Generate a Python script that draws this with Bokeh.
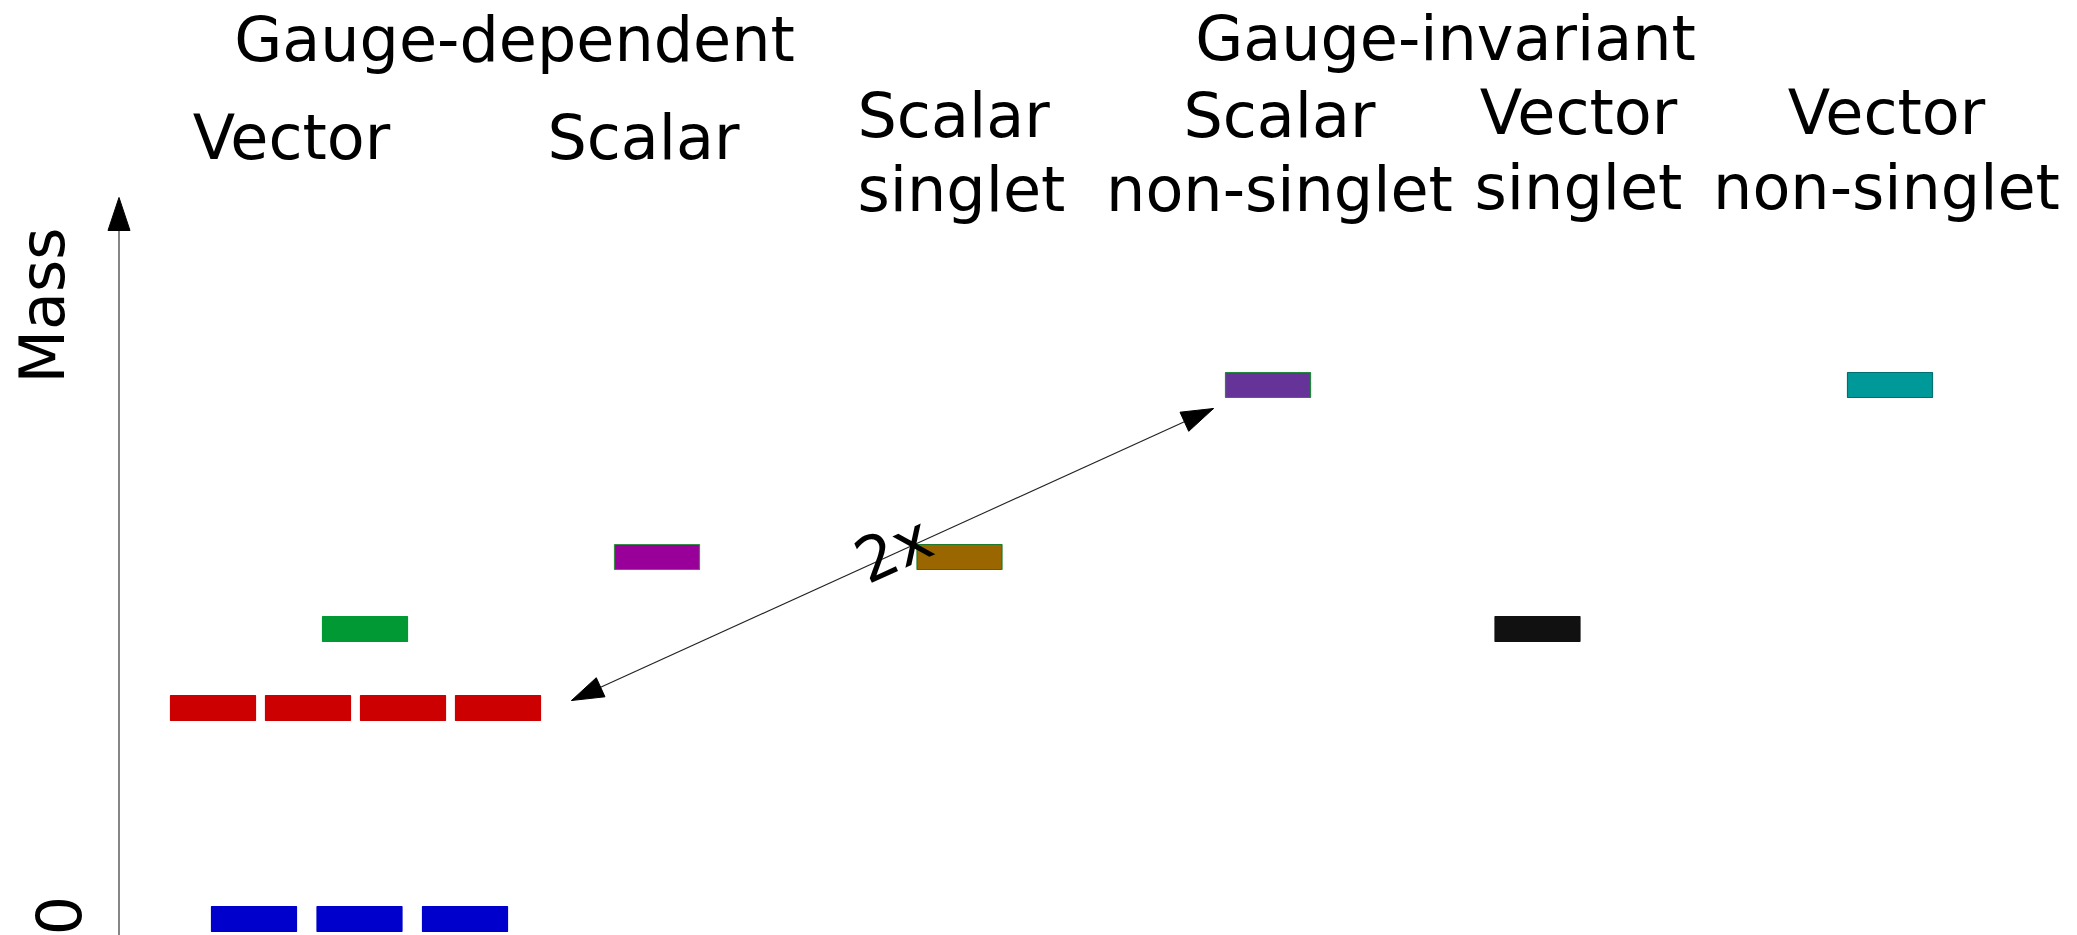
import math
from bokeh.plotting import figure
from bokeh.models import Range1d
from bokeh.core.properties import value
from bokeh.embed import file_html
from bokeh.resources import INLINE

# ---------------- data ----------------
group_names = ["Gauge-dependent", "Gauge-invariant"]
column_titles = [
    ["Vector"],
    ["Scalar"],
    ["Scalar", "singlet"],
    ["Scalar", "non-singlet"],
    ["Vector", "singlet"],
    ["Vector", "non-singlet"],
]
# mass levels (arbitrary units, 0 = massless)
level_column = [0, 0, 0, 1, 2, 3, 4, 5]
level_mass = [0.0, 2.11, 2.90, 3.62, 3.62, 5.34, 2.90, 5.34]
level_multiplicity = [3, 4, 1, 1, 1, 1, 1, 1]
ratio_text = "2x"
axis_text = "Mass"
zero_text = "0"

# ---------------- styles / layout ----------------
level_fill = ["#0000cc", "#cc0000", "#009933", "#990099", "#996600", "#663399", "#111111", "#009999"]
level_line = ["#0000cc", "#cc0000", "#009933", "#3a8a4a", "#1f7a2a", "#1f8a3a", "#111111", "#006f6f"]
level_center_x = [359.0, 355.0, 364.5, 656.5, 959.0, 1267.5, 1537.0, 1889.5]
level_spacing = [105.5, 95.0, 0, 0, 0, 0, 0, 0]
BAR_W = 85.0
BAR_H_PX = 25.0

W, H = 2077, 935
MASS0_REF = 918.5     # pixel row of mass 0
PX_PER_UNIT = 100.0
TOP_REF = 0.0
BASE_SHIFT = 23.0     # renderer places alphabetic baseline this much lower


def Y(ref_y):
    return (MASS0_REF - ref_y) / PX_PER_UNIT


def head(tip, tail, length, width):
    """triangle (in pixels) for an arrow head pointing at tip"""
    dx, dy = tip[0] - tail[0], tip[1] - tail[1]
    n = math.hypot(dx, dy)
    ux, uy = dx / n, dy / n
    bx, by = tip[0] - ux * length, tip[1] - uy * length
    px, py = -uy, ux
    pts = [tip, (bx + px * width / 2, by + py * width / 2), (bx - px * width / 2, by - py * width / 2)]
    return [p[0] for p in pts], [Y(p[1]) for p in pts]


p = figure(width=W, height=H, x_range=Range1d(0, W),
           y_range=Range1d(Y(TOP_REF + H), Y(TOP_REF)),
           output_backend="svg", toolbar_location=None, min_border=0,
           x_axis_type=None, y_axis_type=None, outline_line_color=None)
p.grid.visible = False
p.background_fill_color = "white"
p.border_fill_color = "white"

# ---- bars (mass levels) ----
xs, ys, fills, lines = [], [], [], []
for i, m in enumerate(level_mass):
    n = level_multiplicity[i]
    for k in range(n):
        xs.append(level_center_x[i] + (k - (n - 1) / 2) * level_spacing[i])
        ys.append(m)
        fills.append(level_fill[i])
        lines.append(level_line[i])
p.rect(x=xs, y=ys, width=BAR_W, height=BAR_H_PX / PX_PER_UNIT,
       fill_color=fills, line_color=lines, line_width=1.2)

# ---- mass axis ----
AX_X = 118.5
p.segment(x0=[AX_X], y0=[Y(940)], x1=[AX_X], y1=[Y(225)], line_color="#444444", line_width=1.3)
hx, hy = head((AX_X, 197), (AX_X, 400), 33, 22)
p.patch(hx, hy, fill_color="black", line_color="black", line_width=1)

# ---- 2x double arrow ----
A = (571.0, 700.0)
B = (1213.0, 408.0)
p.segment(x0=[A[0]], y0=[Y(A[1])], x1=[B[0]], y1=[Y(B[1])], line_color="#222222", line_width=1.1)
for tip, tail in ((A, B), (B, A)):
    hx, hy = head(tip, tail, 32, 21)
    p.patch(hx, hy, fill_color="black", line_color="black", line_width=1)
ang = math.atan2(A[1] - B[1], B[0] - A[0])
FONT = value("DejaVu Sans")
FS = "62px"
p.text(x=[893], y=[Y(549)], text=[ratio_text], angle=ang,
       text_font=FONT, text_font_size=FS,
       text_align="center", text_baseline="middle", text_color="black")

# ---- texts ----
p.text(x=[514, 1445], y=[Y(62 - BASE_SHIFT), Y(61 - BASE_SHIFT)], text=group_names, text_font=FONT,
       text_font_size=FS, text_align="center", text_baseline="alphabetic", text_color="black")

col_x = [291, 643, 857, 1279, 1578, 1886]
col_align = ["center", "center", "left", "center", "center", "center"]
col_base = [[160], [160], [138, 212], [138, 212], [135, 210], [135, 210]]
for c, lines_ in enumerate(column_titles):
    for j, t in enumerate(lines_):
        p.text(x=[col_x[c]], y=[Y(col_base[c][j] - BASE_SHIFT)], text=[t], text_font=FONT,
               text_font_size=FS, text_align=col_align[c], text_baseline="alphabetic",
               text_color="black")

# axis labels (rotated)
p.text(x=[65 - BASE_SHIFT], y=[Y(305)], text=[axis_text], angle=math.pi / 2, text_font=FONT,
       text_font_size=FS, text_align="center", text_baseline="alphabetic", text_color="black")
p.text(x=[80 - BASE_SHIFT], y=[Y(915)], text=[zero_text], angle=math.pi / 2, text_font=FONT,
       text_font_size=FS, text_align="center", text_baseline="alphabetic", text_color="black")

open("out.html", "w").write(file_html(p, INLINE))
